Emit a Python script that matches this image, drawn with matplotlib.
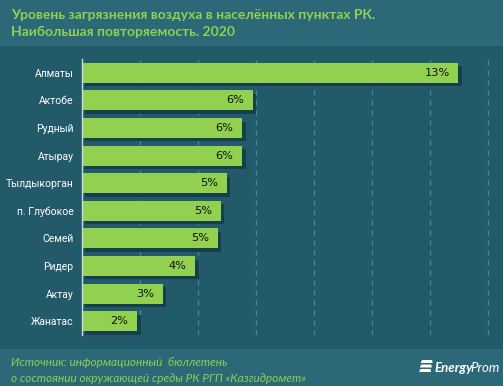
import matplotlib
matplotlib.use("Agg")
import matplotlib.pyplot as plt
import matplotlib.patheffects as pe
from matplotlib.patches import Rectangle, Polygon

cities = ["Алматы", "Актобе", "Рудный", "Атырау", "Тылдыкорган",
          "п. Глубокое", "Семей", "Ридер", "Актау", "Жанатас"]
values = [12.97, 5.89, 5.52, 5.52, 4.99, 4.79, 4.68, 3.9, 2.79, 1.9]

BG = "#235a69"
BAND = "#2c6877"
GREEN = "#92d050"

W, H = 503, 386
fig = plt.figure(figsize=(W / 100, H / 100), dpi=100)
fig.patch.set_facecolor(BG)

# header and footer bands
fig.patches.append(Rectangle((0, 1 - 46 / H), 1, 46 / H, transform=fig.transFigure,
                             facecolor=BAND, edgecolor="none", zorder=0))
fig.patches.append(Rectangle((0, 0), 1, 37 / H, transform=fig.transFigure,
                             facecolor=BAND, edgecolor="none", zorder=0))

ax = fig.add_axes([82 / W, 51 / H, 415 / W, 276 / H])
ax.set_facecolor(BG)

y = list(range(len(cities)))
bars = ax.barh(y, values, height=0.72, color=GREEN, zorder=3)
for b in bars:
    b.set_path_effects([pe.SimplePatchShadow(offset=(2.5, -2.5), shadow_rgbFace="#143c48", alpha=0.9),
                        pe.Normal()])

for yi, v in zip(y, values):
    ax.text(v - 0.3, yi, f"{v:.0f}%", ha="right", va="center",
            fontsize=8.2, color="#111111", zorder=4, family="DejaVu Sans")

ax.set_xlim(0, 14.3)
ax.set_ylim(len(cities) - 0.5, -0.5)
ax.set_xticks(range(2, 15, 2))
ax.xaxis.grid(True, linestyle=(0, (4, 4)), color="#3b8ea6", linewidth=0.9, zorder=0)
ax.tick_params(axis="x", length=0, labelbottom=False)
ax.tick_params(axis="y", length=0, colors="white", pad=6)
ax.set_yticks(y)
ax.set_yticklabels(cities, family="Roboto", fontsize=7.5)
for s in ["top", "right", "bottom"]:
    ax.spines[s].set_visible(False)
ax.spines["left"].set_color("#d0d8da")
ax.spines["left"].set_linewidth(1)
ax.spines["left"].set_zorder(5)

fig.text(11 / W, 1 - 15 / H, "Уровень загрязнения воздуха в населённых пунктах РК.",
         color=GREEN, fontsize=10, weight="bold", va="center", family="Lato")
fig.text(11 / W, 1 - 32 / H, "Наибольшая повторяемость. 2020",
         color=GREEN, fontsize=10, weight="bold", va="center", family="Lato")

fig.text(11 / W, 1 - 363 / H, "Источник: информационный  бюллетень",
         color=GREEN, fontsize=8.5, style="italic", va="center", family="Lato")
fig.text(11 / W, 1 - 378 / H, "о состоянии окружающей среды РК РГП «Казгидромет»",
         color=GREEN, fontsize=8.5, style="italic", va="center", family="Lato")

# logo
for i in range(3):
    yy = 1 - (363 + i * 4.5) / H
    x0 = 419 + (2 - i) * 0.8
    fig.patches.append(Polygon([(x0 / W, yy), ((x0 + 12) / W, yy),
                                ((x0 + 11.5) / W, yy + 3 / H), ((x0 + 1.5) / W, yy + 3 / H)],
                               closed=True, transform=fig.transFigure,
                               facecolor="white", edgecolor="none"))
fig.text(434 / W, 1 - 368 / H, "Energy", color="white", fontsize=9.5, weight="bold",
         style="italic", va="center", family="Lato")
fig.text(470 / W, 1 - 368 / H, "Prom", color="white", fontsize=9.5,
         style="italic", va="center", family="Lato")

fig.savefig("out.png", dpi=100, facecolor=fig.get_facecolor())
